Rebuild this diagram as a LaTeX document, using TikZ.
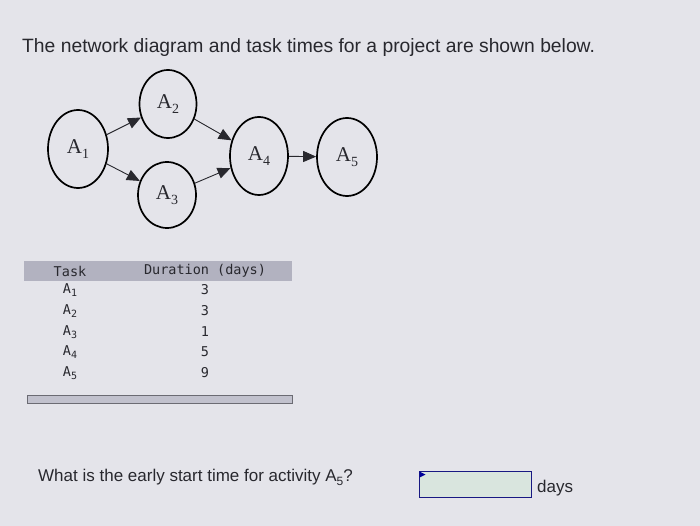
\documentclass[tikz,border=0pt]{standalone}
\usepackage{fontspec}
\setmainfont{Liberation Serif}
\setsansfont{Liberation Sans}
\setmonofont{DejaVu Sans Mono}
\usetikzlibrary{shapes.geometric,arrows.meta}
\definecolor{screen}{RGB}{228,228,234}
\definecolor{ink}{RGB}{40,40,46}
\definecolor{band}{RGB}{178,178,192}
\newcommand{\tsub}[2][10]{\raisebox{-0.45ex}{\fontsize{#1}{#1}\selectfont #2}}

\begin{document}
\begin{tikzpicture}[x=1pt,y=-1pt]
\tikzstyle{every node}+=[inner sep=0pt,text=ink]
\tikzstyle{act}=[draw=black,ellipse,line width=1.7pt,font=\fontsize{21}{21}\selectfont]
\tikzstyle{link}=[draw=ink,line width=0.9pt,-{Triangle[length=13pt,width=11pt]}]
\tikzstyle{mono}=[font=\ttfamily\fontsize{13.5}{13.5}\selectfont]
\tikzstyle{plain}=[anchor=base west,font=\sffamily\fontsize{17}{17}\selectfont]
\fill [screen] (0,0) rectangle (700,526);
\node [anchor=base west,font=\sffamily\fontsize{19.3}{19.3}\selectfont] (title) at (22,53)
  {The network diagram and task times for a project are shown below.};
% network
\node [act,minimum width=60pt,minimum height=78pt] (a1) at (78,149) {A\tsub[14]{1}};
\node [act,minimum width=57pt,minimum height=68pt] (a2) at (168,104) {A\tsub[14]{2}};
\node [act,minimum width=58pt,minimum height=66pt] (a3) at (167,195) {A\tsub[14]{3}};
\node [act,minimum width=58pt,minimum height=78pt] (a4) at (259,156) {A\tsub[14]{4}};
\node [act,minimum width=60pt,minimum height=78pt] (a5) at (347,157) {A\tsub[14]{5}};
\draw [link] (a1) -- (a2);
\draw [link] (a1) -- (a3);
\draw [link] (a2) -- (a4);
\draw [link] (a3) -- (a4);
\draw [link] (a4) -- (a5);
% table
\fill [band] (24,261) rectangle (292,281);
\node [mono] (task) at (70,271) {Task};
\node [mono] (dur) at (205,271) {Duration (days)};
\foreach \t/\d/\y in {1/3/290,2/3/311,3/1/332,4/5/352,5/9/373}{
  \node [mono] (task\t) at (70,\y) {A\tsub{\t}};
  \node [mono] (dur\t) at (205,\y) {\d};
}
\fill [band!80,draw=band!60!black] (27,395) rectangle (292,403);
% question
\node [plain] (ask) at (38,481) {What is the early start time for activity A\tsub[12]{5}?};
\node [draw=ink!60!blue,line width=0.9pt,fill=screen!95!green,minimum width=112pt,minimum height=26pt] (answer) at (475,484) {};
\fill [blue!60!black] (answer.north west) ++(1,1) -- ++(6,3) -- ++(-6,3) -- cycle;
\node [plain] (days) at (537,492) {days};
\end{tikzpicture}
\end{document}
